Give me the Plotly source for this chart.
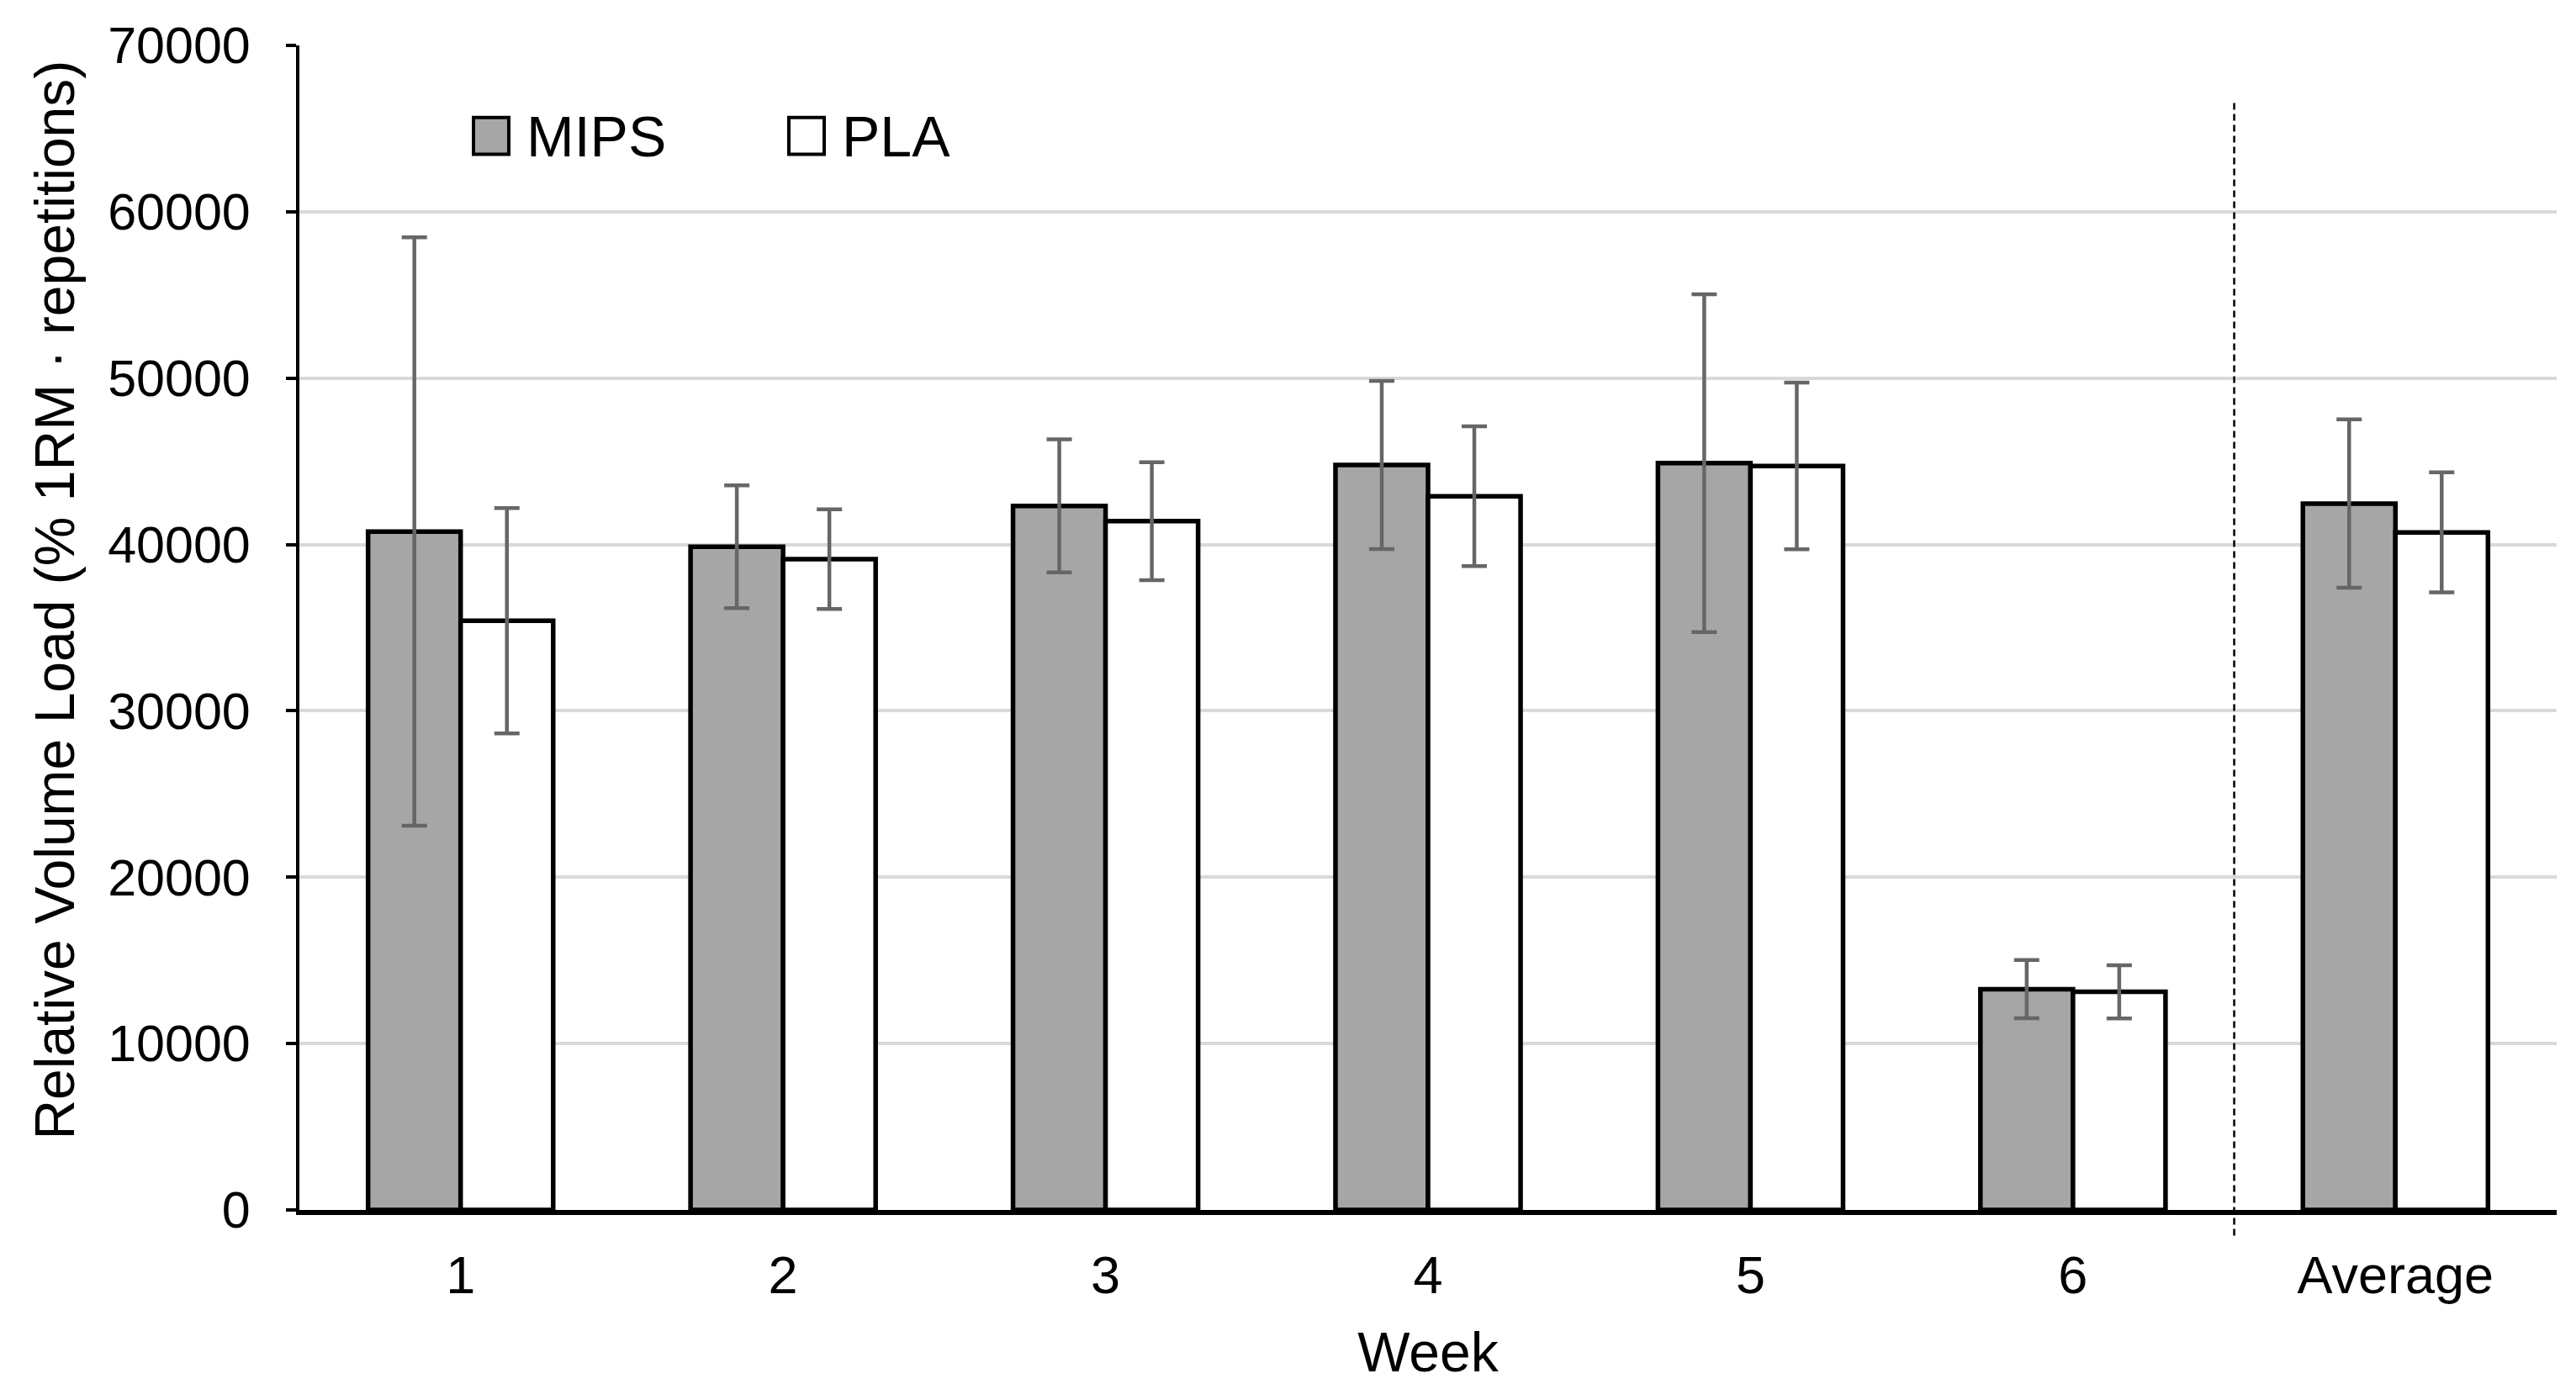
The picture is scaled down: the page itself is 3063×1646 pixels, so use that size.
import plotly.graph_objects as go

categories = ["1", "2", "3", "4", "5", "6", "Average"]
mips = [40780, 39860, 42320, 44780, 44890, 13270, 42460]
mips_sd = [17680, 3690, 4000, 5050, 10155, 1750, 5065]
pla = [35420, 39120, 41400, 42900, 44720, 13110, 40730]
pla_sd = [6770, 3000, 3540, 4200, 5010, 1600, 3605]

y_ticks = [0, 10000, 20000, 30000, 40000, 50000, 60000, 70000]
series_names = ["MIPS", "PLA"]
series_fill = ["#a6a6a6", "#ffffff"]

FONT = "Liberation Sans, Arial, sans-serif"

fig = go.Figure()
for name, vals, sds, fill in [(series_names[0], mips, mips_sd, series_fill[0]),
                              (series_names[1], pla, pla_sd, series_fill[1])]:
    fig.add_trace(go.Bar(
        x=categories, y=vals, name=name,
        marker=dict(color=fill, line=dict(color="black", width=5.5)),
        error_y=dict(type="data", array=sds, visible=True,
                     color="#666666", thickness=4.5, width=15),
        showlegend=False,
    ))

W, H = 3063, 1646
L, R, T, B = 348, 31, 41, 215

fig.update_layout(
    width=W, height=H,
    margin=dict(l=L, r=R, t=T, b=B),
    paper_bgcolor="white", plot_bgcolor="white",
    barmode="group", bargap=0.426, bargroupgap=0,
    font=dict(family=FONT, color="black", size=60),
)

fig.update_yaxes(
    range=[0, 70000], tickvals=y_ticks, ticktext=[str(v) for v in y_ticks],
    showline=True, linecolor="black", linewidth=4,
    ticks="outside", ticklen=12, tickwidth=4, tickcolor="black",
    showgrid=True, gridcolor="#d9d9d9", gridwidth=4,
    zeroline=False,
    tickfont=dict(size=61, family=FONT, color="black"),
    ticklabelstandoff=30,
)
fig.update_xaxes(
    type="category",
    showline=True, linecolor="black", linewidth=5.5,
    ticks="", showgrid=False,
    tickfont=dict(size=63, family=FONT, color="black"),
    ticklabelstandoff=18,
    title=dict(text="Week", font=dict(size=66, family=FONT, color="black"), standoff=36),
)

# dashed separator between week 6 and Average
fig.add_shape(type="line", xref="x", yref="paper",
              x0=5.5, x1=5.5, y0=-0.022, y1=0.9525,
              line=dict(color="black", width=2.5, dash="8px,5px"))

pw = W - L - R
ph = H - T - B
def px_x(p):
    return (p - L) / pw
def px_y(p):
    return (H - B - p) / ph

# y-axis title (placed like the original, slightly above plot centre)
fig.add_annotation(xref="paper", yref="paper", x=px_x(57), y=px_y(703),
                   text="Relative Volume Load (% 1RM · repetitions)", textangle=-90,
                   showarrow=False, xanchor="center", yanchor="middle",
                   font=dict(size=66, family=FONT, color="black"))

# manual legend
legend_items = [(series_names[0], series_fill[0], 555, 616),
                (series_names[1], series_fill[1], 930, 991)]
for name, fill, sx, tx in legend_items:
    fig.add_shape(type="rect", xref="paper", yref="paper",
                  x0=px_x(sx), x1=px_x(sx + 42), y0=px_y(171), y1=px_y(127),
                  fillcolor=fill, line=dict(color="black", width=4))
    fig.add_annotation(xref="paper", yref="paper", x=px_x(tx), y=px_y(149),
                       text=name, showarrow=False, xanchor="left", yanchor="middle",
                       font=dict(size=68, family=FONT, color="black"))

fig.write_html("out.html")
